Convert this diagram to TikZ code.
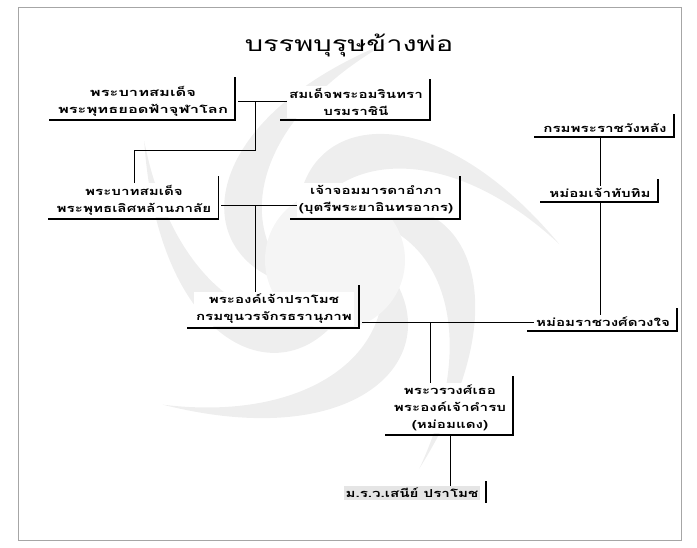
\documentclass[tikz,border=0pt]{standalone}
\usepackage{fontspec}
\usepackage{graphicx}
\newfontfamily\thai[Script=Thai]{Loma}
\newcommand\wt[1]{\scalebox{1.38}[1]{#1}}
\tikzset{
  fam/.style={fill=white, inner sep=2pt, align=center, font=\thai\bfseries\fontsize{11}{17}\selectfont},
  barline/.style={line width=1.8pt, line cap=rect},
  link/.style={line width=1pt},
  swirl/.style={fill=gray!13, draw=none},
}
\newcommand\shad[1]{\draw[barline] ([xshift=5pt,yshift=6pt]#1.north east) -- ([xshift=5pt,yshift=-2pt]#1.south east) -- ([xshift=-6pt,yshift=-2pt]#1.south west);}
\begin{document}
\begin{tikzpicture}[x=1pt,y=-1pt]
\useasboundingbox (0,0) rectangle (697,547);
\draw[gray!70, line width=0.6pt] (18,7) rectangle (681,540);
% background swirl
\begin{scope}[shift={(335,260)}]
  \foreach \a in {0,72,144,216,288}{
    \fill[swirl, rotate=\a] (0:45) .. controls (35:150) and (80:200) .. (140:225)
      .. controls (100:165) and (55:115) .. (0:45);
  }
  \fill[gray!8] (0,0) circle (70);
\end{scope}
% title
\node (title) at (349,45) {\thai\fontsize{21}{25}\selectfont\scalebox{1.38}[1]{บรรพบุรุษข้างพ่อ}};
% nodes
\node[fam] (n1) at (143,101) {\scalebox{1.5}[1]{พระบาทสมเด็จ}\\\scalebox{1.5}[1]{พระพุทธยอดฟ้าจุฬาโลก}};
\node[fam] (n2) at (356,102) {\wt{สมเด็จพระอมรินทรา}\\\wt{บรมราชินี}};
\node[fam] (n3) at (134,200) {\wt{พระบาทสมเด็จ}\\\wt{พระพุทธเลิศหล้านภาลัย}};
\node[fam] (n4) at (376,200) {\wt{เจ้าจอมมารดาอำภา}\\\wt{(บุตรีพระยาอินทรอากร)}};
\node[fam] (n5) at (274,309) {\wt{พระองค์เจ้าปราโมช}\\\wt{กรมขุนวรจักรธรานุภาพ}};
\node[fam] (n6) at (605,128) {\wt{กรมพระราชวังหลัง}};
\node[fam] (n7) at (600,193) {\wt{หม่อมเจ้าทับทิม}};
\node[fam] (n8) at (603,322) {\wt{หม่อมราชวงศ์ดวงใจ}};
\node[fam] (n9) at (450,408) {\wt{พระวรวงศ์เธอ}\\\wt{พระองค์เจ้าคำรบ}\\\wt{(หม่อมแดง)}};
\node[fam, fill=gray!20] (n10) at (412,493) {\wt{ม.ร.ว.เสนีย์ ปราโมช}};
\foreach \n in {n1,n2,n3,n4,n5,n6,n7,n8,n9}{\shad{\n}}
\draw[barline] ([xshift=5pt,yshift=4pt]n10.north east) -- ([xshift=5pt,yshift=-2pt]n10.south east);
% connectors
\coordinate (m1) at (255,101);
\coordinate (k1) at (255,150);
\coordinate (m2) at (255,205);
\coordinate (m3) at (430,322);
\coordinate (v) at (600,0);
\draw[link] ([xshift=8pt]n1.east |- m1) -- (n2.west |- m1);
\draw[link] (m1) -- (k1) -| (n3.north);
\draw[link] ([xshift=8pt]n3.east |- m2) -- (n4.west |- m2);
\draw[link] (m2) -- (m2 |- n5.north);
\draw[link] ([xshift=8pt]n5.east |- m3) -- (n8.west |- m3);
\draw[link] (m3) -- (m3 |- n9.north);
\draw[link] ([yshift=-2pt]n6.south -| v) -- (n7.north -| v);
\draw[link] ([yshift=-2pt]n7.south -| v) -- (n8.north -| v);
\draw[link] ([yshift=-2pt]n9.south) -- (n9.south |- n10.north);
\end{tikzpicture}
\end{document}
